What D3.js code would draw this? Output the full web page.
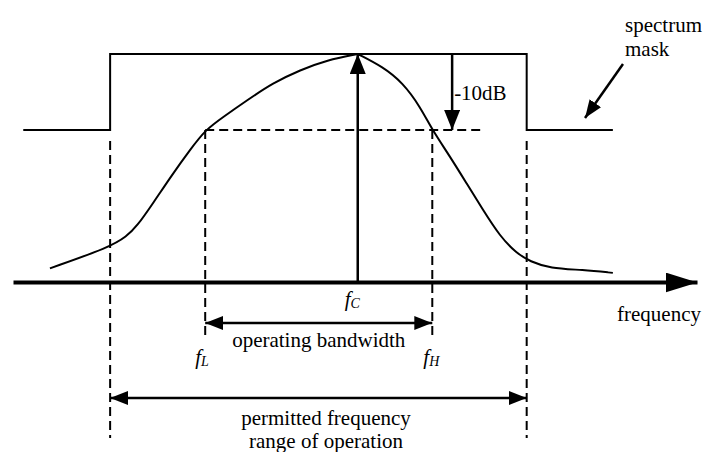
<!DOCTYPE html>
<html>
<head>
<meta charset="utf-8">
<script src="https://cdn.jsdelivr.net/npm/d3@7"></script>
<style>
  body { margin: 0; background: #fff; }
  svg { display: block; }
  svg text { font-family: "Liberation Serif", "Times New Roman", Times, "DejaVu Serif", serif; font-size: 21px; fill: #000; }
</style>
</head>
<body>
<div id="chart"></div>
<script>
const W = 703, H = 452;
const FONT = "'Liberation Serif', 'Times New Roman', Times, 'DejaVu Serif', serif";

// frequency in arbitrary units (0..100), level in dB relative to the peak
const maskFreq  = [1.5, 14.2, 14.2, 75.1, 75.1, 87.7];
const maskLevel = [-10, -10, 0, 0, -10, -10];

const curveFreqLeft  = [5.4, 14.2, 16.6, 18.1, 20.5, 23.4, 25.9, 28.1, 30.7, 34.2, 38.0, 42.0, 45.9, 50.4];
const curveLevelLeft = [-28.2, -25.4, -24.0, -22.7, -19.6, -15.7, -12.6, -10.0, -8.3, -6.1, -3.8, -2.1, -0.8, 0];
const curveFreqRight  = [50.4, 54.1, 57.0, 59.5, 61.3, 63.9, 66.3, 68.7, 71.2, 73.6, 75.6, 78.5, 83.3, 87.7];
const curveLevelRight = [0, -1.7, -3.8, -6.9, -10.0, -13.5, -17.0, -20.5, -24.0, -26.2, -27.3, -28.2, -28.4, -28.8];

const fcFreq = 50.4;
const fLFreq = 28.1;
const fHFreq = 61.3;
const maskEdges = [14.2, 75.1];
const dbStep = -10;
const dbArrowFreq = 64.2;
const dbLineEnd = 68.3;

const x = d3.scaleLinear().domain([0, 100]).range([13, 697]);
const y = d3.scaleLinear().domain([-30, 0]).range([282, 54]);

const svg = d3.select("#chart").append("svg")
    .attr("width", W)
    .attr("height", H);

// arrowhead markers
const defs = svg.append("defs");
function marker(id, len, half) {
    defs.append("marker")
        .attr("id", id)
        .attr("markerUnits", "userSpaceOnUse")
        .attr("viewBox", `0 0 ${len} ${half * 2}`)
        .attr("refX", len)
        .attr("refY", half)
        .attr("markerWidth", len)
        .attr("markerHeight", half * 2)
        .attr("orient", "auto-start-reverse")
        .append("path")
        .attr("d", `M0,0 L${len},${half} L0,${half * 2} Z`)
        .attr("fill", "#000");
}
marker("big", 32, 10);
marker("mid", 20, 8);
marker("small", 18, 7);

// frequency axis
const axis = svg.append("g")
    .attr("transform", `translate(0,${y(-30)})`)
    .call(d3.axisBottom(x).tickValues([]).tickSizeOuter(0));
axis.select(".domain")
    .attr("stroke", "#000")
    .attr("stroke-width", 4)
    .attr("marker-end", "url(#big)");

const line = d3.line().x(d => x(d[0])).y(d => y(d[1]));

// spectrum mask
svg.append("path")
    .datum(d3.zip(maskFreq, maskLevel))
    .attr("d", line)
    .attr("fill", "none")
    .attr("stroke", "#000")
    .attr("stroke-width", 2);

// spectrum curve (two halves meeting at the peak)
const smooth = d3.line().x(d => x(d[0])).y(d => y(d[1])).curve(d3.curveBasis);
[[curveFreqLeft, curveLevelLeft], [curveFreqRight, curveLevelRight]].forEach(([f, l]) => {
    svg.append("path")
        .datum(d3.zip(f, l))
        .attr("d", smooth)
        .attr("fill", "none")
        .attr("stroke", "#000")
        .attr("stroke-width", 2);
});

const dash = "9,5";

// -10dB dashed level
svg.append("line")
    .attr("x1", x(fLFreq)).attr("x2", x(dbLineEnd))
    .attr("y1", y(dbStep)).attr("y2", y(dbStep))
    .attr("stroke", "#000").attr("stroke-width", 2).attr("stroke-dasharray", dash);

// mask edge dashed verticals
svg.selectAll(".edge")
    .data(maskEdges)
    .join("line")
    .attr("class", "edge")
    .attr("x1", d => x(d)).attr("x2", d => x(d))
    .attr("y1", y(dbStep) + 11).attr("y2", 438)
    .attr("stroke", "#000").attr("stroke-width", 2).attr("stroke-dasharray", dash);

// fL / fH dashed verticals
svg.selectAll(".band")
    .data([fLFreq, fHFreq])
    .join("line")
    .attr("class", "band")
    .attr("x1", d => x(d)).attr("x2", d => x(d))
    .attr("y1", y(dbStep)).attr("y2", 336)
    .attr("stroke", "#000").attr("stroke-width", 2).attr("stroke-dasharray", dash);

// fc arrow
svg.append("line")
    .attr("x1", x(fcFreq)).attr("x2", x(fcFreq))
    .attr("y1", y(-30)).attr("y2", y(0))
    .attr("stroke", "#000").attr("stroke-width", 2.5)
    .attr("marker-end", "url(#mid)");

// -10dB arrow
svg.append("line")
    .attr("x1", x(dbArrowFreq)).attr("x2", x(dbArrowFreq))
    .attr("y1", y(0)).attr("y2", y(dbStep))
    .attr("stroke", "#000").attr("stroke-width", 2.5)
    .attr("marker-end", "url(#mid)");

function label(px, py) {
    return svg.append("text")
        .attr("x", px)
        .attr("y", py)
        .attr("font-family", FONT)
        .attr("font-size", 21);
}

label(x(dbArrowFreq) + 2, 100).text("-10dB");

// operating bandwidth arrow
svg.append("line")
    .attr("x1", x(fLFreq)).attr("x2", x(fHFreq))
    .attr("y1", 323).attr("y2", 323)
    .attr("stroke", "#000").attr("stroke-width", 2.5)
    .attr("marker-start", "url(#small)")
    .attr("marker-end", "url(#small)");

label((x(fLFreq) + x(fHFreq)) / 2, 347)
    .attr("text-anchor", "middle")
    .text("operating bandwidth");

// permitted range arrow
svg.append("line")
    .attr("x1", x(maskEdges[0])).attr("x2", x(maskEdges[1]))
    .attr("y1", 398).attr("y2", 398)
    .attr("stroke", "#000").attr("stroke-width", 2.5)
    .attr("marker-start", "url(#small)")
    .attr("marker-end", "url(#small)");

const permitted = label(326, 425).attr("text-anchor", "middle");
permitted.append("tspan").attr("x", 326).text("permitted frequency");
permitted.append("tspan").attr("x", 326).attr("dy", 23).text("range of operation");

// f labels
function fLabel(px, py, sub) {
    const t = label(px, py).attr("font-style", "italic");
    t.append("tspan").text("f");
    t.append("tspan").attr("dy", 2).attr("font-size", 14).text(sub);
}
fLabel(x(fcFreq) - 13, 306, "C");
fLabel(x(fLFreq) - 10, 364, "L");
fLabel(x(fHFreq) - 9, 364, "H");

// frequency label
label(617, 321).text("frequency");

// spectrum mask label and pointer
const maskLabel = label(625, 32);
maskLabel.append("tspan").attr("x", 625).text("spectrum");
maskLabel.append("tspan").attr("x", 625).attr("dy", 24).text("mask");

svg.append("line")
    .attr("x1", 623).attr("y1", 64)
    .attr("x2", 585).attr("y2", 118)
    .attr("stroke", "#000").attr("stroke-width", 2.5)
    .attr("marker-end", "url(#small)");
</script>
</body>
</html>
